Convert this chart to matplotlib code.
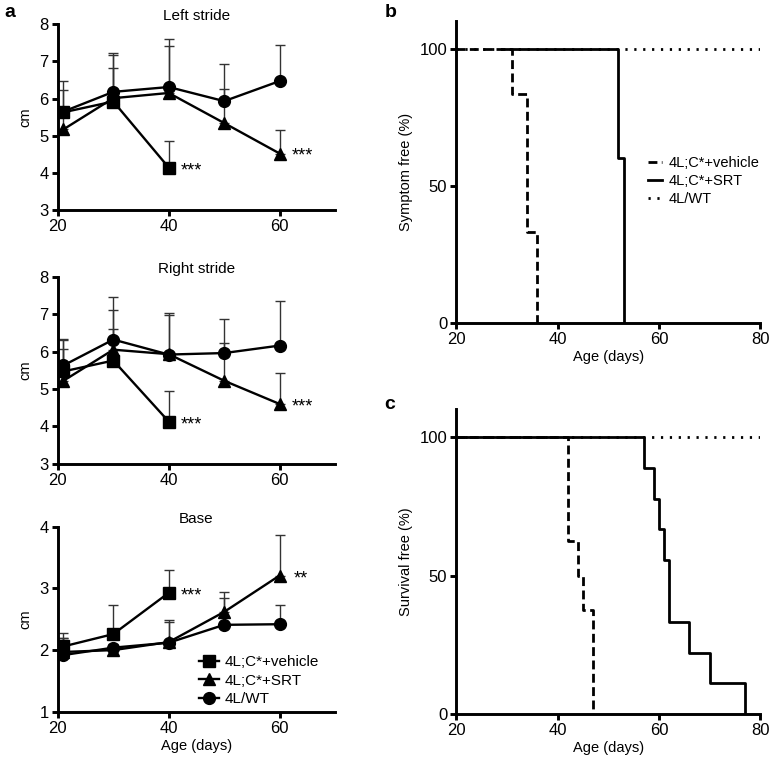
import numpy as np
import matplotlib.pyplot as plt
from matplotlib.lines import Line2D

plt.rcParams["font.family"] = ["Liberation Sans", "DejaVu Sans"]
plt.rcParams["font.size"] = 10.5

# ---- panel a: gait (mean and upper end of error bar) ----
ages = [21, 30, 40, 50, 60]
ages_veh = [21, 30, 40]

left_veh = [5.63, 5.92, 4.14]
left_veh_up = [6.24, 7.18, 4.87]
left_srt = [5.17, 6.01, 6.15, 5.34, 4.52]
left_srt_up = [5.60, 6.81, 7.42, 6.27, 5.15]
left_wt = [5.65, 6.18, 6.31, 5.93, 6.47]
left_wt_up = [6.48, 7.23, 7.60, 6.92, 7.45]

right_veh = [5.47, 5.76, 4.13]
right_veh_up = [6.30, 6.61, 4.94]
right_srt = [5.22, 6.05, 5.93, 5.22, 4.60]
right_srt_up = [6.07, 7.11, 6.98, 6.23, 5.43]
right_wt = [5.63, 6.32, 5.92, 5.96, 6.16]
right_wt_up = [6.34, 7.46, 7.04, 6.88, 7.36]

base_veh = [2.06, 2.26, 2.93]
base_veh_up = [2.27, 2.73, 3.30]
base_srt = [1.97, 2.00, 2.13, 2.62, 3.21]
base_srt_up = [2.20, 2.08, 2.45, 2.94, 3.86]
base_wt = [1.92, 2.04, 2.12, 2.41, 2.42]
base_wt_up = [2.20, 2.10, 2.49, 2.85, 2.73]

labels = ["4L;C*+vehicle", "4L;C*+SRT", "4L/WT"]

# ---- panels b, c: Kaplan-Meier steps ----
b_veh_days = [20, 31, 34, 36]
b_veh_pct = [100, 83.3, 33.3, 0]
b_srt_days = [29, 52, 53]
b_srt_pct = [100, 60, 0]
b_wt_days = [20, 80]
b_wt_pct = [100, 100]

c_veh_days = [20, 42, 44, 45, 47]
c_veh_pct = [100, 62.5, 50, 37.5, 0]
c_srt_days = [20, 57, 59, 60, 61, 62, 66, 70, 77]
c_srt_pct = [100, 88.9, 77.8, 66.7, 55.6, 33.3, 22.2, 11.1, 0]
c_wt_days = [20, 80]
c_wt_pct = [100, 100]

SPINE_W = 2.1
TICK_FS = 12
STAR_FS = 13


def style_axes(ax):
    for s in ["top", "right"]:
        ax.spines[s].set_visible(False)
    for s in ["left", "bottom"]:
        ax.spines[s].set_linewidth(SPINE_W)
    ax.tick_params(direction="out", length=4.5, width=SPINE_W, pad=2, labelsize=TICK_FS)


def gait_panel(ax, veh, veh_up, srt, srt_up, wt, wt_up, ylim, title):
    groups = [
        (ages_veh, veh, veh_up, "s"),
        (ages, srt, srt_up, "^"),
        (ages, wt, wt_up, "o"),
    ]
    for x, y, up, m in groups:
        y = np.asarray(y)
        err = np.asarray(up) - y
        ax.errorbar(x, y, yerr=[np.zeros_like(err), err], fmt="none",
                    ecolor="#333333", elinewidth=1.0, capsize=3.5, capthick=1.0,
                    zorder=2)
        ax.plot(x, y, color="black", lw=1.7, marker=m, ms=8.5, zorder=3)
    ax.set_xlim(20, 70)
    ax.set_ylim(*ylim)
    ax.set_xticks([20, 40, 60])
    ax.set_yticks(np.arange(ylim[0], ylim[1] + 1))
    ax.set_ylabel("cm", labelpad=5)
    ax.set_title(title, fontsize=11, pad=3)
    style_axes(ax)


fig = plt.figure(figsize=(7.72, 7.58), dpi=100)

ax1 = fig.add_axes([0.075, 0.723, 0.359, 0.245])
gait_panel(ax1, left_veh, left_veh_up, left_srt, left_srt_up, left_wt, left_wt_up,
           (3, 8), "Left stride")
ax1.text(42.2, left_veh[2] - 0.08, "***", va="center", fontsize=STAR_FS)
ax1.text(62.2, left_srt[4] - 0.08, "***", va="center", fontsize=STAR_FS)

ax2 = fig.add_axes([0.075, 0.388, 0.359, 0.247])
gait_panel(ax2, right_veh, right_veh_up, right_srt, right_srt_up, right_wt, right_wt_up,
           (3, 8), "Right stride")
ax2.text(42.2, right_veh[2] - 0.08, "***", va="center", fontsize=STAR_FS)
ax2.text(62.2, right_srt[4] - 0.08, "***", va="center", fontsize=STAR_FS)

ax3 = fig.add_axes([0.075, 0.061, 0.359, 0.244])
gait_panel(ax3, base_veh, base_veh_up, base_srt, base_srt_up, base_wt, base_wt_up,
           (1, 4), "Base")
ax3.text(42.2, base_veh[2] - 0.05, "***", va="center", fontsize=STAR_FS)
ax3.text(62.6, base_srt[4] - 0.05, "**", va="center", fontsize=STAR_FS)
ax3.set_xlabel("Age (days)", labelpad=2)
handles = [Line2D([], [], color="black", lw=1.7, marker=m, ms=8.5) for m in ["s", "^", "o"]]
ax3.legend(handles, labels, loc="lower left", bbox_to_anchor=(0.46, -0.045),
           frameon=False, handlelength=1.3, handletextpad=0.4, labelspacing=0.3,
           fontsize=11)

VEH_LS = (0, (3.2, 1.6))
WT_LS = (0, (0.8, 2.4))


def km_panel(ax, veh, srt, wt, ylabel):
    ax.step(wt[0], wt[1], where="post", color="black", lw=2.0, ls=WT_LS, zorder=2)
    ax.step(srt[0], srt[1], where="post", color="black", lw=2.0, zorder=3)
    ax.step(veh[0], veh[1], where="post", color="black", lw=2.0, ls=VEH_LS, zorder=4)
    ax.set_xlim(20, 80)
    ax.set_ylim(0, 110)
    ax.set_xticks([20, 40, 60, 80])
    ax.set_yticks([0, 50, 100])
    ax.set_xlabel("Age (days)", labelpad=2)
    ax.set_ylabel(ylabel, labelpad=5)
    style_axes(ax)


axb = fig.add_axes([0.591, 0.574, 0.394, 0.398])
km_panel(axb, (b_veh_days, b_veh_pct), (b_srt_days, b_srt_pct),
         (b_wt_days, b_wt_pct), "Symptom free (%)")
km_handles = [Line2D([], [], color="black", lw=2.0, ls=VEH_LS),
              Line2D([], [], color="black", lw=2.0),
              Line2D([], [], color="black", lw=2.0, ls=WT_LS)]
axb.legend(km_handles, labels, loc="center left", bbox_to_anchor=(0.63, 0.47),
           frameon=False, handlelength=1.0, handletextpad=0.4, labelspacing=0.25,
           borderaxespad=0, borderpad=0, fontsize=10.5)

axc = fig.add_axes([0.591, 0.058, 0.394, 0.402])
km_panel(axc, (c_veh_days, c_veh_pct), (c_srt_days, c_srt_pct),
         (c_wt_days, c_wt_pct), "Survival free (%)")

fig.text(0.006, 0.984, "a", fontsize=14, fontweight="bold", va="center")
fig.text(0.498, 0.984, "b", fontsize=14, fontweight="bold", va="center")
fig.text(0.498, 0.467, "c", fontsize=14, fontweight="bold", va="center")

fig.savefig("out.png", dpi=100)
